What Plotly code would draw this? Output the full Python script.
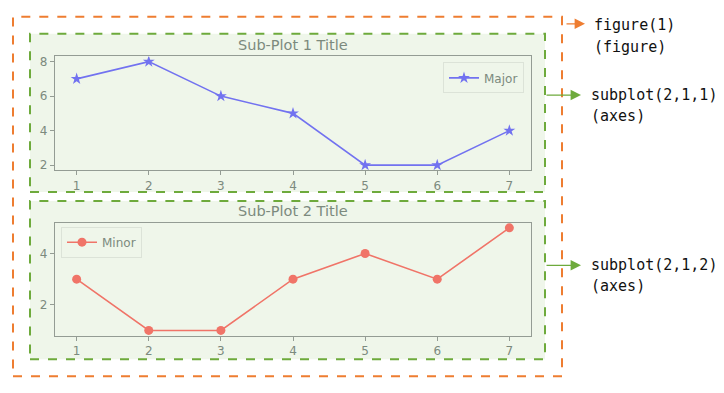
import plotly.graph_objects as go

x_vals = [1, 2, 3, 4, 5, 6, 7]
major_vals = [7, 8, 6, 5, 2, 2, 4]
minor_vals = [3, 1, 1, 3, 4, 3, 5]
x_ticks = [1, 2, 3, 4, 5, 6, 7]
y1_ticks = [2, 4, 6, 8]
y2_ticks = [2, 4]
titles = ["Sub-Plot 1 Title", "Sub-Plot 2 Title"]
labels = [("figure(1)", "(figure)"), ("subplot(2,1,1)", "(axes)"), ("subplot(2,1,2)", "(axes)")]

W, H = 724, 393
def px(x):
    return x / W
def py(y):
    return 1 - y / H

BLUE = "#7272F0"
RED = "#F07468"
GREEN_BG = "#EFF6EA"
GREEN_LINE = "#6EAA3C"
ORANGE = "#EE7D31"
TXT = "#7C8A7E"
AXC = "#949C94"

fig = go.Figure()
fig.add_trace(go.Scatter(x=x_vals, y=major_vals, mode="lines+markers", name="Major",
                         line=dict(color=BLUE, width=1.6),
                         marker=dict(symbol="star", size=9, color=BLUE),
                         xaxis="x", yaxis="y", legend="legend", showlegend=True))
fig.add_trace(go.Scatter(x=x_vals, y=minor_vals, mode="lines+markers", name="Minor",
                         line=dict(color=RED, width=1.6),
                         marker=dict(symbol="circle", size=9, color=RED),
                         xaxis="x2", yaxis="y2", legend="legend2", showlegend=True))

ax_common = dict(showline=True, mirror=True, linecolor=AXC, linewidth=1.2,
                 ticks="outside", ticklen=4, tickcolor=AXC, showgrid=False, zeroline=False,
                 tickfont=dict(family="DejaVu Sans", size=12, color=TXT))

shapes = []
# orange figure box
shapes.append(dict(type="rect", xref="paper", yref="paper", x0=px(13), x1=px(562), y0=py(378), y1=py(15),
                   line=dict(color=ORANGE, width=2, dash="dash"), layer="below"))
# green axes boxes
for (t, b) in [(32, 192), (201, 361)]:
    shapes.append(dict(type="rect", xref="paper", yref="paper", x0=px(30), x1=px(545), y0=py(b), y1=py(t),
                       line=dict(color=GREEN_LINE, width=2, dash="dash"), fillcolor=GREEN_BG, layer="below"))

annotations = []
# subplot titles
for title, ty in zip(titles, [43, 211]):
    annotations.append(dict(text=title, xref="paper", yref="paper", x=px(293), y=py(ty),
                            xanchor="center", yanchor="middle", showarrow=False,
                            font=dict(family="DejaVu Sans", size=14.5, color=TXT)))
# right-hand labels
label_pos = [(592, 23, 45), (589, 94, 115), (589, 266, 287)]
for (l1, l2), (lx, y1, y2) in zip(labels, label_pos):
    for txt, yy in [(l1, y1), (l2, y2)]:
        annotations.append(dict(text=txt, xref="paper", yref="paper", x=px(lx), y=py(yy),
                                xanchor="left", yanchor="middle", showarrow=False,
                                font=dict(family="DejaVu Sans Mono", size=15, color="#111111")))
# arrows
arrows = [(565, 585, 22, ORANGE), (545, 581, 94, GREEN_LINE), (545, 581, 266, GREEN_LINE)]
for x0, x1, yy, c in arrows:
    annotations.append(dict(text="", xref="paper", yref="paper", x=px(x1), y=py(yy),
                            ax=x0 - x1, ay=0, axref="pixel", ayref="pixel",
                            showarrow=True, arrowhead=2, arrowsize=1.6, arrowwidth=1.3, arrowcolor=c))

fig.update_layout(
    width=W, height=H, margin=dict(l=0, r=0, t=0, b=0),
    paper_bgcolor="white", plot_bgcolor=GREEN_BG, showlegend=True,
    xaxis=dict(domain=[px(55), px(531)], range=[0.7, 7.3], tickvals=x_ticks, anchor="y", **ax_common),
    yaxis=dict(domain=[py(170), py(55)], range=[1.7, 8.3], tickvals=y1_ticks, anchor="x", **ax_common),
    xaxis2=dict(domain=[px(55), px(531)], range=[0.7, 7.3], tickvals=x_ticks, anchor="y2", **ax_common),
    yaxis2=dict(domain=[py(337), py(223)], range=[0.8, 5.2], tickvals=y2_ticks, anchor="x2", **ax_common),
    legend=dict(x=px(524), y=py(61), xanchor="right", yanchor="top", bgcolor=GREEN_BG,
                bordercolor="#DCE3D8", borderwidth=1, itemwidth=30,
                font=dict(family="DejaVu Sans", size=12, color=TXT)),
    legend2=dict(x=px(61), y=py(227), xanchor="left", yanchor="top", bgcolor=GREEN_BG,
                 bordercolor="#DCE3D8", borderwidth=1, itemwidth=30,
                 font=dict(family="DejaVu Sans", size=12, color=TXT)),
    shapes=shapes, annotations=annotations,
)

fig.write_html("out.html", config={"displayModeBar": False},
               post_script="document.body.style.margin='0';")
